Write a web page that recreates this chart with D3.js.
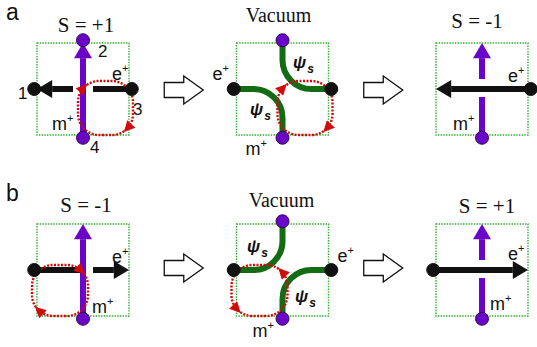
<!DOCTYPE html>
<html>
<head>
<meta charset="utf-8">
<script src="https://cdn.jsdelivr.net/npm/d3@7/dist/d3.min.js"></script>
<style>
  html, body { margin: 0; padding: 0; background: #fff; }
  svg { display: block; }
</style>
</head>
<body>
<svg id="fig" width="537" height="347"></svg>
<script>
// ---- Content -------------------------------------------------------------
// Two rows (a, b), three stages per row: initial sector, vacuum, final sector.
const rows = ["a", "b"];
const stages = ["initial", "vacuum", "final"];
const titles = [["S = +1", "Vacuum", "S = -1"], ["S = -1", "Vacuum", "S = +1"]];
// Direction of the e+ string along x and of the m+ string along y (0 = no string).
const eDir = [[-1, 0, -1], [+1, 0, +1]];
const mDir = [[+1, 0, +1], [+1, 0, +1]];
// Which string is interrupted where the two strings cross.
const broken = [["e", null, "m"], ["e", null, "m"]];
// Sites drawn in each panel (W, E carry e+ ends; N, S carry m+ ends).
const sites = [
  [["W", "N", "E", "S"], ["W", "N", "E", "S"], ["E", "S"]],
  [["W", "S"], ["W", "N", "E", "S"], ["W", "S"]]
];
// psi_s strings in the vacuum panels, as pairs of joined sites.
const psiPairs = [[["N", "E"], ["W", "S"]], [["N", "W"], ["E", "S"]]];
// Dotted circulation loop: plaquette it encloses and its sense.
const loopQuadrant = [["SE", "SE", null], ["SW", "SW", null]];
const loopSense = [["cw", "cw", null], ["cw", "ccw", null]];
// Site numbering shown in the first panel.
const siteNumbers = ["1", "2", "3", "4"];

// ---- Styling -------------------------------------------------------------
const RED = "#d20a0a", BOX = "#27ae27", PSI = "#136b13", PURPLE = "#6a05c8", INK = "#111";

const svg = d3.select("#fig");
const col = d3.scaleLinear().domain([0, 2]).range([83, 482]);
const row = d3.scaleLinear().domain([0, 1]).range([89, 270]);
const unit = d3.scaleLinear().domain([-1, 1]).range([-46, 46]);
const siteDir = { W: [-1, 0], E: [1, 0], N: [0, -1], S: [0, 1] };
const SITE = 1.06;

// Per-panel text placement, relative to the panel centre.
const place = {
  "0,0": { title: [3, -57], e: [29, -9], m: [-31, 41], gapNear: 10 },
  "0,1": { title: [-4, -67], e: [-70, -9], m: [-37, 66], psi: [[10.5, -21], [-32.5, 26]] },
  "0,2": { title: [-5, -61], e: [26, -7], m: [-29, 41] },
  "1,0": { title: [3, -58], e: [29, -7], m: [9, 43], gapNear: 3 },
  "1,1": { title: [-1, -63], e: [55, -8], m: [-30, 67], psi: [[-35.5, -18], [12.5, 32]] },
  "1,2": { title: [5, -57], e: [26, -10], m: [8, 40] }
};
const numberPos = { W: [-65, 10], N: [15, -32], E: [50, 26], S: [7, 64] };
const loopRect = { SE: [-5, -8, 50, 46], SW: [-51, -5, 5, 46] };

const defs = svg.append("defs");
defs.append("marker")
  .attr("id", "loopHead")
  .attr("viewBox", "0 0 10 10")
  .attr("refX", 6).attr("refY", 5)
  .attr("markerWidth", 12).attr("markerHeight", 11)
  .attr("markerUnits", "userSpaceOnUse")
  .attr("orient", "auto")
  .append("path").attr("d", "M0,0 L10,5 L0,10 Z").attr("fill", RED);

// Rounded-rectangle loop, split into quarter pieces between corner midpoints (clockwise).
function arcPts(cx, cy, r, a0, a1, n = 10) {
  return d3.range(n + 1).map(i => {
    const a = (a0 + (a1 - a0) * i / n) * Math.PI / 180;
    return [cx + r * Math.cos(a), cy + r * Math.sin(a)];
  });
}
function quarter(rect, r, k) {
  const [x0, y0, x1, y1] = rect;
  const c = [[x0 + r, y0 + r], [x1 - r, y0 + r], [x1 - r, y1 - r], [x0 + r, y1 - r]];
  const c0 = c[k % 4], c1 = c[(k + 1) % 4];
  const s0 = 180 + 90 * k, s1 = s0 + 90;
  return arcPts(c0[0], c0[1], r, s0 + 45, s0 + 90).concat(arcPts(c1[0], c1[1], r, s1, s1 + 45));
}
const line = d3.line();

function hollowArrow(x, y) {
  const pts = [[-19.5, -7.5], [0, -7.5], [0, -14], [19.5, 0], [0, 14], [0, 7.5], [-19.5, 7.5]]
    .map(([dx, dy]) => [x + dx, y + dy]);
  svg.append("path").attr("d", line(pts) + "Z")
    .attr("fill", "#fff").attr("stroke", INK).attr("stroke-width", 1.3)
    .attr("stroke-linejoin", "miter");
}

function charge(g, x, y, base, sup) {
  const t = g.append("text").attr("x", x).attr("y", y)
    .attr("font-family", "Liberation Sans, Arial, sans-serif").attr("font-size", 18).attr("fill", INK);
  t.append("tspan").text(base);
  t.append("tspan").attr("font-size", 11).attr("dy", -8).text(sup);
}

rows.forEach((letter, r) => {
  svg.append("text").attr("x", 6).attr("y", row(r) - 69)
    .attr("font-family", "Liberation Sans, Arial, sans-serif").attr("font-size", 23)
    .attr("fill", INK).text(letter);

  stages.forEach((stage, c) => {
    const cx = col(c), cy = row(r), key = r + "," + c, p = place[key];
    const g = svg.append("g").attr("transform", `translate(${cx},${cy})`);
    const n = unit(SITE);

    // lattice plaquette outline
    g.append("rect")
      .attr("x", unit(-1)).attr("y", unit(-1))
      .attr("width", unit(1) - unit(-1)).attr("height", unit(1) - unit(-1))
      .attr("fill", "none").attr("stroke", BOX).attr("stroke-width", 1.4)
      .attr("stroke-dasharray", "1.4,1.3");

    // psi_s strings in the vacuum
    if (stage === "vacuum") {
      const R = 29;
      psiPairs[r].forEach(([a, b], i) => {
        const da = siteDir[a], db = siteDir[b];
        const sweep = (da[0] * db[1] - da[1] * db[0]) > 0 ? 0 : 1;
        const d = `M${da[0] * n},${da[1] * n} L${da[0] * R},${da[1] * R} ` +
          `A${R},${R} 0 0 ${sweep} ${db[0] * R},${db[1] * R} L${db[0] * n},${db[1] * n}`;
        g.append("path").attr("d", d).attr("fill", "none")
          .attr("stroke", PSI).attr("stroke-width", 6);
        const [px, py] = p.psi[i];
        const t = g.append("text").attr("x", px).attr("y", py)
          .attr("font-family", "Liberation Sans, Arial, sans-serif")
          .attr("font-weight", "bold").attr("font-style", "italic").attr("fill", INK);
        t.append("tspan").attr("font-size", 17).text("\u03C8");
        t.append("tspan").attr("font-size", 12).attr("dy", 5).attr("dx", 1).text("s");
      });
    }

    // e+ string (black) with arrow head
    const ed = eDir[r][c];
    if (ed !== 0) {
      const tip = unit(ed), base = unit(ed * 0.67), start = -ed * n;
      const segs = broken[r][c] === "e"
        ? [[start, -ed * p.gapNear], [ed * 10, base]]
        : [[start, base]];
      segs.forEach(([x0, x1]) => g.append("line")
        .attr("x1", x0).attr("x2", x1).attr("y1", 0).attr("y2", 0)
        .attr("stroke", INK).attr("stroke-width", 6));
      g.append("path").attr("d", line([[tip, 0], [base, -9], [base, 9]]) + "Z").attr("fill", INK);
    }

    // m+ string (purple) with arrow head
    const md = mDir[r][c];
    if (md !== 0) {
      const tip = unit(-md), base = unit(-md * 0.67), start = md * n;
      const segs = broken[r][c] === "m"
        ? [[start, md * 8], [-md * 10, base]]
        : [[start, base]];
      segs.forEach(([y0, y1]) => g.append("line")
        .attr("x1", 0).attr("x2", 0).attr("y1", y0).attr("y2", y1)
        .attr("stroke", PURPLE).attr("stroke-width", 6));
      g.append("path").attr("d", line([[0, tip], [-9, base], [9, base]]) + "Z").attr("fill", PURPLE);
    }

    // dotted circulation loop with two arrow heads
    const q = loopQuadrant[r][c];
    if (q) {
      const rect = loopRect[q], rad = 21;
      const starts = q === "SE" ? [0, 2] : [1, 3];
      starts.forEach(k => {
        let pts = quarter(rect, rad, k).concat(quarter(rect, rad, k + 1).slice(1));
        if (loopSense[r][c] === "ccw") pts = pts.reverse();
        g.append("path").attr("d", line(pts)).attr("fill", "none")
          .attr("stroke", RED).attr("stroke-width", 2.4)
          .attr("stroke-dasharray", "2,1.5")
          .attr("marker-end", "url(#loopHead)");
      });
    }

    // lattice sites
    sites[r][c].forEach(s => {
      const [dx, dy] = siteDir[s];
      const purple = s === "N" || s === "S";
      g.append("circle").attr("cx", dx * n).attr("cy", dy * n).attr("r", 6.5)
        .attr("fill", purple ? PURPLE : INK)
        .attr("stroke", purple ? "#2d0a55" : INK).attr("stroke-width", 1);
    });

    // site numbering
    if (r === 0 && c === 0) {
      ["W", "N", "E", "S"].forEach((s, i) => {
        g.append("text").attr("x", numberPos[s][0]).attr("y", numberPos[s][1])
          .attr("font-family", "Liberation Sans, Arial, sans-serif").attr("font-size", 17)
          .attr("fill", INK).text(siteNumbers[i]);
      });
    }

    // charge labels
    charge(g, p.e[0], p.e[1], "e", "+");
    charge(g, p.m[0], p.m[1], "m", "+");

    // sector title
    g.append("text").attr("x", p.title[0]).attr("y", p.title[1])
      .attr("text-anchor", "middle")
      .attr("font-family", "Liberation Serif, Times New Roman, serif")
      .attr("font-size", stage === "vacuum" ? 20 : 21)
      .attr("fill", INK).text(titles[r][c]);

    // transition arrow to the next stage
    if (c < stages.length - 1) {
      hollowArrow((col(c) + col(c + 1)) / 2 + 1, cy + (r === 0 ? 1 : -2));
    }
  });
});
</script>
</body>
</html>
